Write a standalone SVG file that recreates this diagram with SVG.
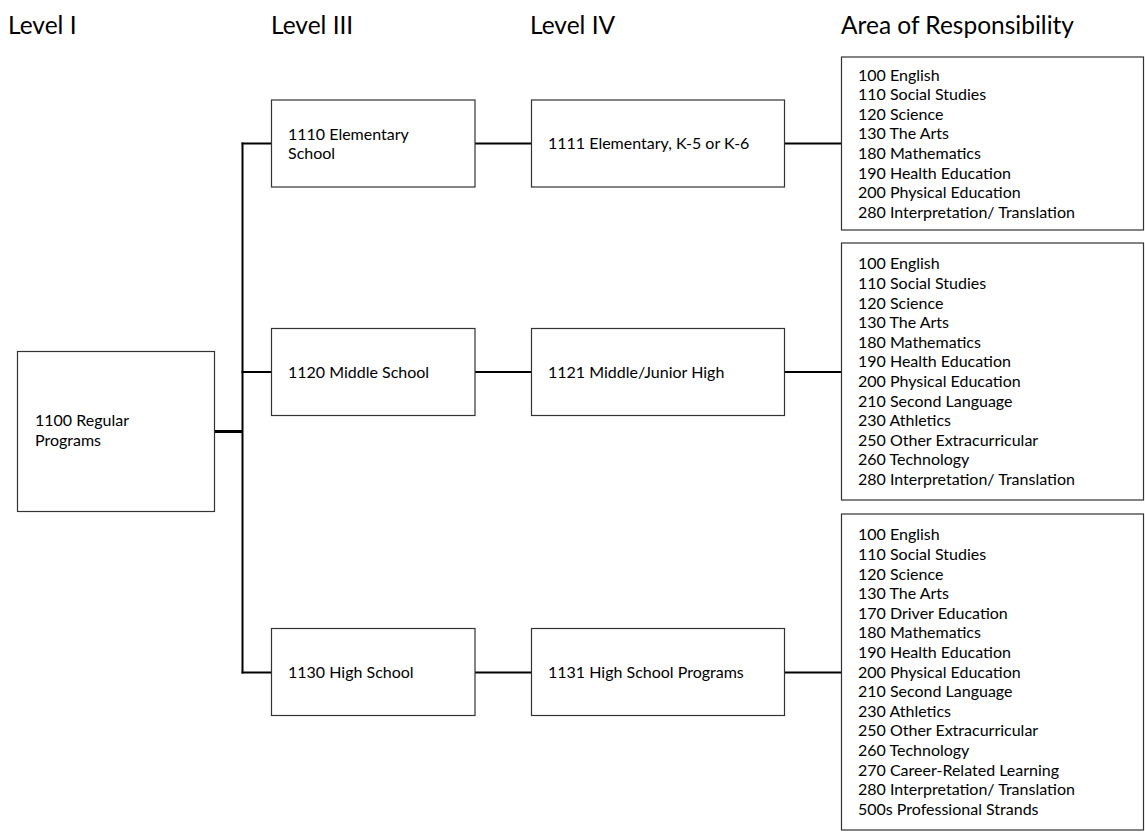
<svg xmlns="http://www.w3.org/2000/svg" width="1145" height="832" viewBox="0 0 1145 832">
<style>
text{font-family:Lato,"Open Sans","Liberation Sans",sans-serif;fill:#000}
.h{font-size:24.5px}
.t{font-size:16px}
.box{fill:#fff;stroke:#333;stroke-width:1.2}
.c{stroke:#000;stroke-width:2;fill:none}
.ct{stroke:#000;stroke-width:3;fill:none}
</style>
<rect width="1145" height="832" fill="#fff"/>
<g id="headers">
<text class="h" x="8" y="34">Level I</text>
<text class="h" x="271" y="34">Level III</text>
<text class="h" x="530" y="34">Level IV</text>
<text class="h" x="841" y="34">Area of Responsibility</text>
</g>
<g id="connectors">
<line class="ct" x1="214.5" y1="431.5" x2="243" y2="431.5"/>
<line class="c" x1="242.5" y1="142.5" x2="242.5" y2="673.5"/>
<line class="c" x1="241.5" y1="143.5" x2="271.5" y2="143.5"/>
<line class="c" x1="241.5" y1="372" x2="271.5" y2="372"/>
<line class="c" x1="241.5" y1="672.5" x2="271.5" y2="672.5"/>
<line class="c" x1="475" y1="143.5" x2="531.5" y2="143.5"/>
<line class="c" x1="475" y1="372" x2="531.5" y2="372"/>
<line class="c" x1="475" y1="672.5" x2="531.5" y2="672.5"/>
<line class="c" x1="784.5" y1="143.5" x2="841.5" y2="143.5"/>
<line class="c" x1="784.5" y1="372" x2="841.5" y2="372"/>
<line class="c" x1="784.5" y1="672.5" x2="841.5" y2="672.5"/>
</g>
<g id="n1100">
<rect class="box" x="17.5" y="351.5" width="197" height="160"/>
<text class="t" x="35" y="426.3">1100 Regular<tspan x="35" dy="19.5">Programs</tspan></text>
</g>
<g id="n1110">
<rect class="box" x="271.5" y="100" width="203.5" height="87"/>
<text class="t" x="288" y="139.5">1110 Elementary<tspan x="288" dy="19.6">School</tspan></text>
</g>
<g id="n1120">
<rect class="box" x="271.5" y="328.5" width="203.5" height="87"/>
<text class="t" x="288" y="377.5">1120 Middle School</text>
</g>
<g id="n1130">
<rect class="box" x="271.5" y="628.5" width="203.5" height="87"/>
<text class="t" x="288" y="678.3">1130 High School</text>
</g>
<g id="n1111">
<rect class="box" x="531.5" y="100" width="253" height="87"/>
<text class="t" x="548" y="149">1111 Elementary, K-5 or K-6</text>
</g>
<g id="n1121">
<rect class="box" x="531.5" y="328.5" width="253" height="87"/>
<text class="t" x="548" y="377.5">1121 Middle/Junior High</text>
</g>
<g id="n1131">
<rect class="box" x="531.5" y="628.5" width="253" height="87"/>
<text class="t" x="548" y="678.3">1131 High School Programs</text>
</g>
<g id="aor1">
<rect class="box" x="841.5" y="57" width="302" height="173"/>
<text class="t" x="858" y="80.6">100 English<tspan x="858" dy="19.6">110 Social Studies</tspan><tspan x="858" dy="19.6">120 Science</tspan><tspan x="858" dy="19.6">130 The Arts</tspan><tspan x="858" dy="19.6">180 Mathematics</tspan><tspan x="858" dy="19.6">190 Health Education</tspan><tspan x="858" dy="19.6">200 Physical Education</tspan><tspan x="858" dy="19.6">280 Interpretation/ Translation</tspan></text>
</g>
<g id="aor2">
<rect class="box" x="841.5" y="243" width="302" height="257"/>
<text class="t" x="858" y="269.3">100 English<tspan x="858" dy="19.6">110 Social Studies</tspan><tspan x="858" dy="19.6">120 Science</tspan><tspan x="858" dy="19.6">130 The Arts</tspan><tspan x="858" dy="19.6">180 Mathematics</tspan><tspan x="858" dy="19.6">190 Health Education</tspan><tspan x="858" dy="19.6">200 Physical Education</tspan><tspan x="858" dy="19.6">210 Second Language</tspan><tspan x="858" dy="19.6">230 Athletics</tspan><tspan x="858" dy="19.6">250 Other Extracurricular</tspan><tspan x="858" dy="19.6">260 Technology</tspan><tspan x="858" dy="19.6">280 Interpretation/ Translation</tspan></text>
</g>
<g id="aor3">
<rect class="box" x="841.5" y="514" width="302" height="316"/>
<text class="t" x="858" y="540.4">100 English<tspan x="858" dy="19.6">110 Social Studies</tspan><tspan x="858" dy="19.6">120 Science</tspan><tspan x="858" dy="19.6">130 The Arts</tspan><tspan x="858" dy="19.6">170 Driver Education</tspan><tspan x="858" dy="19.6">180 Mathematics</tspan><tspan x="858" dy="19.6">190 Health Education</tspan><tspan x="858" dy="19.6">200 Physical Education</tspan><tspan x="858" dy="19.6">210 Second Language</tspan><tspan x="858" dy="19.6">230 Athletics</tspan><tspan x="858" dy="19.6">250 Other Extracurricular</tspan><tspan x="858" dy="19.6">260 Technology</tspan><tspan x="858" dy="19.6">270 Career-Related Learning</tspan><tspan x="858" dy="19.6">280 Interpretation/ Translation</tspan><tspan x="858" dy="19.6">500s Professional Strands</tspan></text>
</g>
</svg>
